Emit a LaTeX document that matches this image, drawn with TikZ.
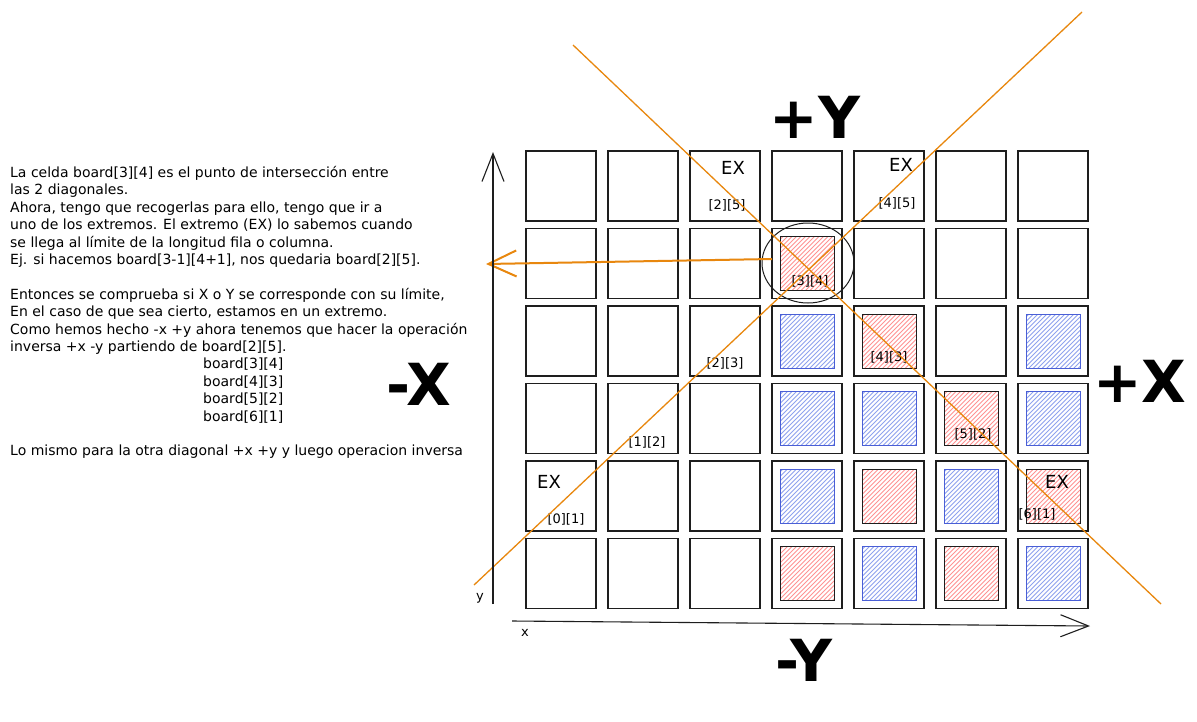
\documentclass[tikz,border=0pt]{standalone}
\usepackage{fontspec}
\setmainfont{DejaVu Sans}
\usepackage{xcolor}
\usetikzlibrary{shapes.geometric, arrows.meta, positioning}

\definecolor{inkc}{HTML}{1E1E1E}
\definecolor{diagc}{HTML}{E8870E}
\definecolor{bluec}{HTML}{4A5FD6}
\definecolor{bluehatch}{HTML}{8EA2EE}
\definecolor{redhatch}{HTML}{FF9292}

\begin{document}
\begin{tikzpicture}[
    x=1pt, y=-1pt,
    cell/.style={draw=inkc, line width=1.2pt, minimum width=70pt,
      minimum height=70pt, inner sep=0pt},
    hatch/.style={path picture={
      \foreach \k in {-60,-55.5,...,60}
        \draw[#1, line width=1pt, shift={(path picture bounding box.center)}]
          (\k-40,40) -- (\k+40,-40);}},
    redsq/.style={draw=inkc, line width=1pt, minimum size=54pt, inner sep=0pt,
      hatch=redhatch},
    bluesq/.style={draw=bluec, line width=1pt, minimum size=54pt, inner sep=0pt,
      hatch=bluehatch},
    idx/.style={inner sep=0pt, font=\fontsize{13}{13}\selectfont},
    extag/.style={inner sep=0pt, font=\fontsize{18}{18}\selectfont},
    dirlabel/.style={inner sep=0pt, font=\fontsize{58}{58}\selectfont\bfseries},
    axlabel/.style={inner sep=0pt, font=\fontsize{13}{13}\selectfont},
    diagline/.style={draw=diagc, line width=1.3pt},
    backarrow/.style={draw=diagc, line width=2pt, -{Straight Barb[length=28pt, width=26pt]}},
    axis/.style={draw=inkc, line width=1.1pt, -{Straight Barb[length=28pt, width=22pt]}},
    note/.style={align=left, anchor=north west, inner sep=0pt,
      font=\fontsize{14}{17.4}\selectfont}
]
\fill[white] (0,0) rectangle (1197,721);
\useasboundingbox (0,0) rectangle (1197,721);

% Board cells
\foreach \i in {0,...,6}
  \foreach \j in {0,...,5}
    \node[cell] (c\i\j) at ({561+82*\i}, {186+77.5*\j}) {};

% Pieces
\foreach \c in {31,42,53,44,64,35,55}
  \node[redsq] (r\c) at (c\c) {};
\foreach \c in {32,62,33,43,63,34,54,45,65}
  \node[bluesq] (b\c) at (c\c) {};

% Intersection cell
\node[draw=inkc, line width=1pt, ellipse, minimum width=92pt, minimum height=80pt,
  inner sep=0pt] (focus) at (808,263) {};

% Extremes and indices
\node[extag] (ex25) at (733,168) {EX};
\node[idx] (i25) at (727,205) {[2][5]};
\node[extag] (ex45) at (901,165) {EX};
\node[idx] (i45) at (897,203) {[4][5]};
\node[idx] (i34) at (810,281) {[3][4]};
\node[idx] (i23) at (725,363) {[2][3]};
\node[idx] (i43) at (889,357) {[4][3]};
\node[idx] (i12) at (647,442) {[1][2]};
\node[idx] (i52) at (973,434) {[5][2]};
\node[extag] (ex01) at (549,482) {EX};
\node[idx] (i01) at (566,519) {[0][1]};
\node[extag] (ex61) at (1057,482) {EX};
\node[idx] (i61) at (1037,514) {[6][1]};

% Diagonals
\coordinate (da) at (573,45);
\coordinate (db) at (1161,604);
\coordinate (dc) at (474,585);
\coordinate (dd) at (1082,12);
\draw[diagline] (da) -- (db);
\draw[diagline] (dc) -- (dd);

% Arrow to the notes
\coordinate (outfrom) at (772,259);
\coordinate (outto) at (486,264);
\draw[backarrow] (outfrom) -- (outto);

% Axes
\coordinate (yfoot) at (493,604);
\coordinate (ytip) at (493,152);
\coordinate (xfoot) at (512,621);
\coordinate (xtip) at (1090,626);
\draw[axis] (yfoot) -- (ytip);
\draw[axis] (xfoot) -- (xtip);
\node[axlabel] (ylab) at (480,598) {y};
\node[axlabel] (xlab) at (525,633) {x};

% Directions
\node[dirlabel] (plusy) at (815,117) {+Y};
\node[dirlabel] (minusy) at (804,660) {-Y};
\node[dirlabel] (plusx) at (1140,381) {+X};
\node[dirlabel] (minusx) at (419,384) {-X};

% Notes
\node[note] (notes) at (10,166) {La celda board[3][4] es el punto de intersección entre\\
las 2 diagonales.\\
Ahora, tengo que recogerlas para ello, tengo que ir a\\
uno de los extremos. El extremo (EX) lo sabemos cuando\\
se llega al límite de la longitud fila o columna.\\
Ej. si hacemos board[3-1][4+1], nos quedaria board[2][5].\\[17.4pt]
Entonces se comprueba si X o Y se corresponde con su límite,\\
En el caso de que sea cierto, estamos en un extremo.\\
Como hemos hecho -x +y ahora tenemos que hacer la operación\\
inversa +x -y partiendo de board[2][5].\\
\hspace*{193pt}board[3][4]\\
\hspace*{193pt}board[4][3]\\
\hspace*{193pt}board[5][2]\\
\hspace*{193pt}board[6][1]\\[17.4pt]
Lo mismo para la otra diagonal +x +y y luego operacion inversa};

\end{tikzpicture}
\end{document}
